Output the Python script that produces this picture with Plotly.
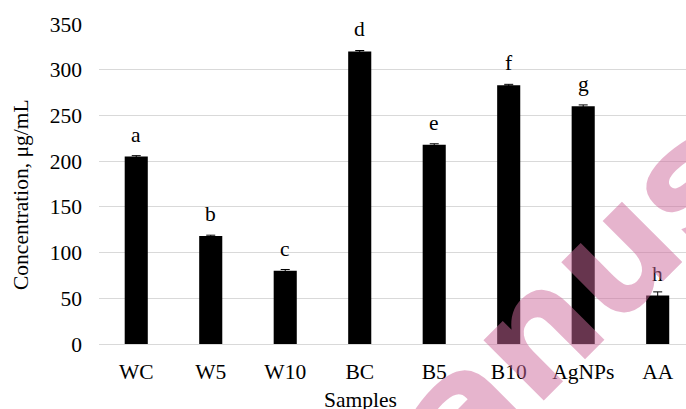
import plotly.graph_objects as go

samples = ["WC", "W5", "W10", "BC", "B5", "B10", "AgNPs", "AA"]
concentration = [205, 118, 80, 320, 218, 283, 260, 53]
std_error = [1, 1, 1.5, 1, 1, 1, 1.5, 4]
group_letters = ["a", "b", "c", "d", "e", "f", "g", "h"]
y_ticks = [0, 50, 100, 150, 200, 250, 300, 350]

W, H = 686, 409
ML, MR, MT, MB = 99, 0, 24, 65
PW, PH = W - ML - MR, H - MT - MB


def px_x(px):
    return (px - ML) / PW


def px_y(py):
    return (H - MB - py) / PH


fig = go.Figure(
    go.Bar(
        x=samples,
        y=concentration,
        width=0.31,
        marker=dict(color="black", line=dict(width=0)),
        error_y=dict(type="data", array=std_error, color="black",
                     thickness=1, width=4.5),
        showlegend=False,
    )
)

# significance letters above each bar
for s, v, g in zip(samples, concentration, group_letters):
    fig.add_annotation(x=s, y=v, text=g, showarrow=False, xref="x", yref="y",
                       yanchor="bottom", yshift=8,
                       font=dict(family="Liberation Serif", size=21.5, color="black"))

fig.add_annotation(text="Concentration, μg/mL", xref="paper", yref="paper",
                   x=px_x(21), y=px_y(195), textangle=-90, showarrow=False,
                   xanchor="center", yanchor="middle",
                   font=dict(family="Liberation Serif", size=21.5, color="black"))
fig.add_annotation(text="Samples", xref="paper", yref="paper",
                   x=px_x(360), y=px_y(386), showarrow=False,
                   xanchor="center", yanchor="top",
                   font=dict(family="Liberation Serif", size=21.5, color="black"))

# diagonal watermark
fig.add_annotation(text="Manuscript", xref="paper", yref="paper",
                   x=px_x(660), y=px_y(208), textangle=-45, showarrow=False,
                   xanchor="center", yanchor="middle",
                   font=dict(family="DejaVu Sans", size=156, weight="bold",
                             color="rgba(205,105,155,0.5)"))

fig.update_layout(
    width=W, height=H,
    margin=dict(l=ML, r=MR, t=MT, b=MB, pad=0),
    paper_bgcolor="white", plot_bgcolor="white",
    font=dict(family="Liberation Serif", size=21.5, color="black"),
)
fig.update_xaxes(type="category", range=[-0.5, 7.38], showgrid=False,
                 showline=False, ticks="", ticklabelstandoff=12,
                 tickfont=dict(family="Liberation Serif", size=21.5, color="black"))
fig.update_yaxes(range=[0, 350], tickvals=y_ticks, showgrid=True,
                 gridcolor="#d9d9d9", gridwidth=1.2, zeroline=True,
                 zerolinecolor="#d9d9d9", zerolinewidth=1.2, showline=False,
                 ticks="", ticklabelstandoff=16,
                 tickfont=dict(family="Liberation Serif", size=21.5, color="black"))

fig.write_html("out.html")
